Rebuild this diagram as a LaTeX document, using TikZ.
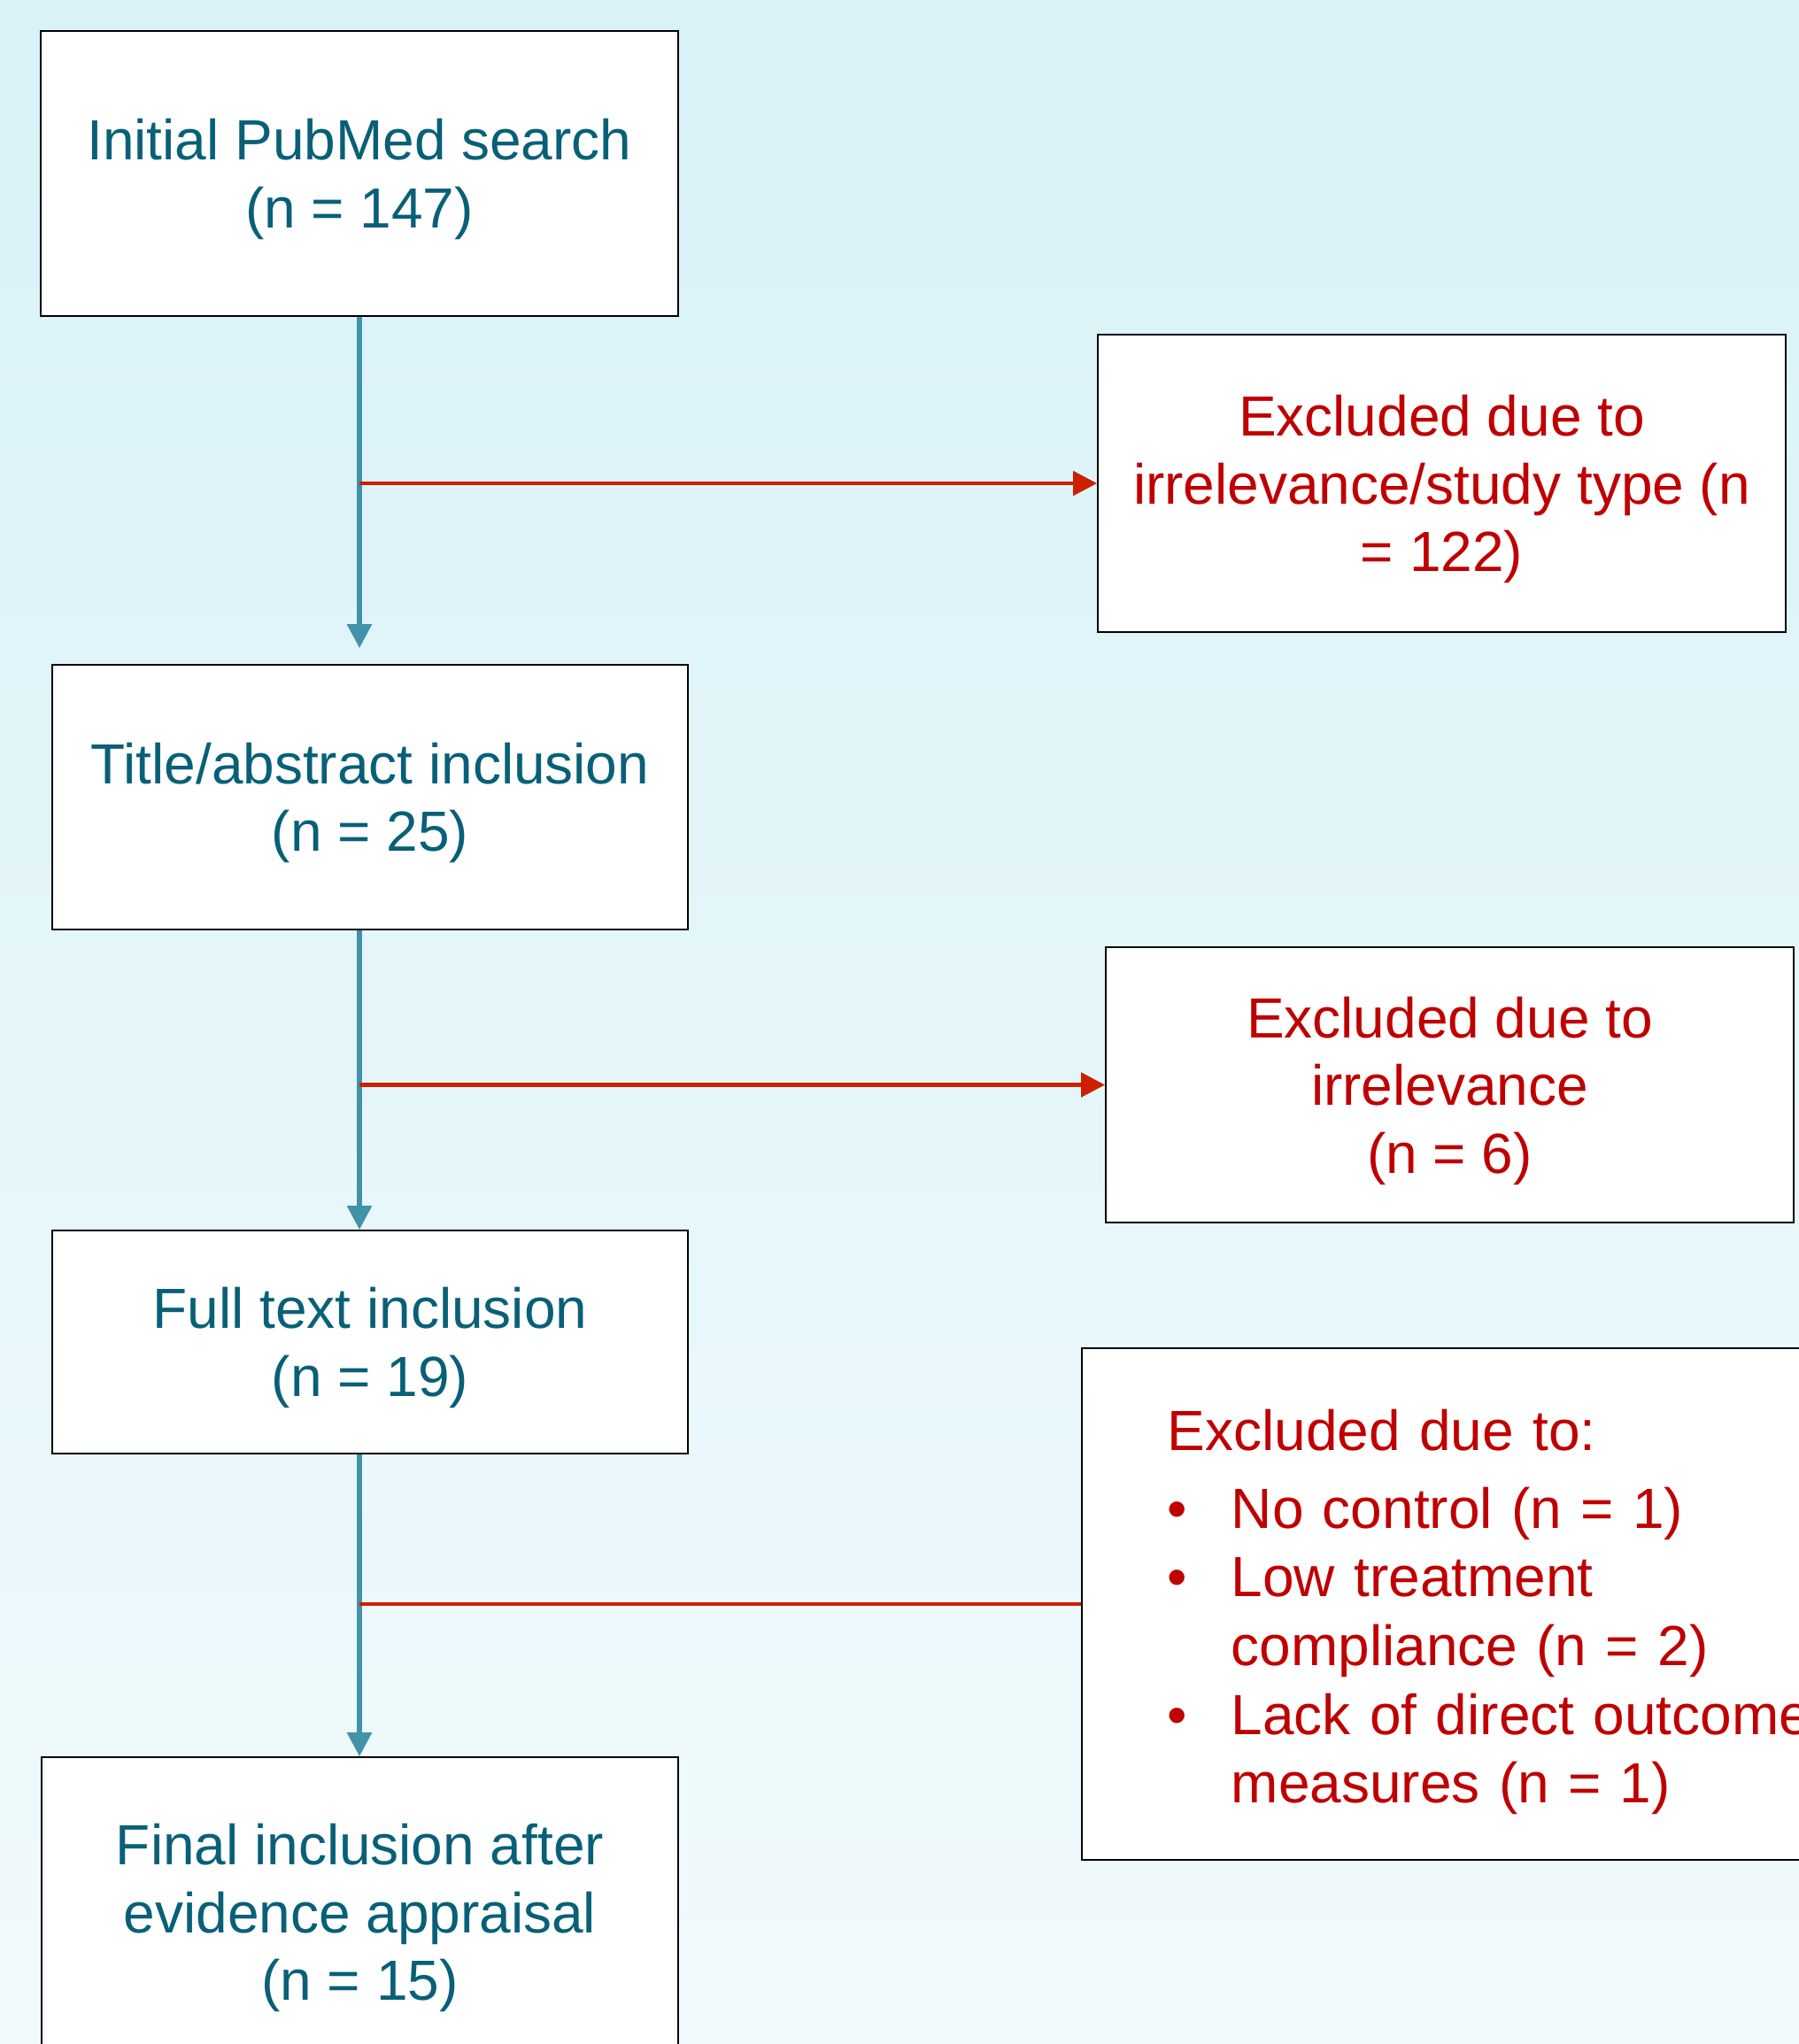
\documentclass[tikz,border=0pt]{standalone}
\usepackage{fontspec}
\setmainfont{Liberation Sans}
\usetikzlibrary{arrows.meta}

\definecolor{flowtext}{RGB}{8,96,120}
\definecolor{flowline}{RGB}{64,147,168}
\definecolor{exclred}{RGB}{192,0,0}
\definecolor{exclline}{RGB}{204,32,0}
\definecolor{bgtop}{RGB}{216,242,247}
\definecolor{bgbottom}{RGB}{241,250,252}

\begin{document}
\begin{tikzpicture}[
                every node/.style={font=\fontsize{18.2}{21.8}\selectfont},
                box/.style={draw=black,line width=0.5pt,fill=white,align=center,inner sep=0pt,text depth=-0.09cm},
                incl/.style={box,text=flowtext},
                excl/.style={box,text=exclred},
                down/.style={draw=flowline,line width=1.6pt,-{Triangle[length=0.27cm,width=0.27cm]}},
                side/.style={draw=exclline,line width=1.4pt}
            ]

            \shade[shading angle=-45,top color=bgtop,bottom color=bgbottom] (0,0) rectangle (20.32,-23.09);
            \useasboundingbox (0,0) rectangle (20.32,-23.09);

            % main column
            \node[incl,minimum width=7.2cm,minimum height=3.22cm] (search) at (4.06,-1.96) {Initial PubMed search\\(n = 147)};
            \node[incl,minimum width=7.18cm,minimum height=2.99cm] (title) at (4.18,-9.005) {Title/abstract inclusion\\(n = 25)};
            \node[incl,minimum width=7.18cm,minimum height=2.52cm] (fulltext) at (4.18,-15.16) {Full text inclusion\\(n = 19)};
            \node[incl,minimum width=7.19cm,minimum height=3.5cm] (final) at (4.065,-21.6) {Final inclusion after\\evidence appraisal\\(n = 15)};

            % exclusions
            \node[excl,minimum width=7.77cm,minimum height=3.36cm] (irrtype) at (16.285,-5.46) {Excluded due to\\irrelevance/study type (n\\= 122)};
            \node[excl,minimum width=7.77cm,minimum height=3.11cm] (irr) at (16.375,-12.255) {Excluded due to\\irrelevance\\(n = 6)};
            \node[excl,anchor=west,align=left,text width=7.2cm,inner xsep=0.97cm,minimum height=5.78cm,text depth=0.03cm,
                  font=\fontsize{18.2}{22.1}\selectfont] (reasons) at (12.21,-18.12) {%
                \begin{tabular}[b]{@{}p{0.72cm}@{}l@{}}
                    \multicolumn{2}{@{}l@{}}{Excluded due to:}\\[0.1cm]
                    \textbullet & No control (n = 1)\\
                    \textbullet & Low treatment\\
                    & compliance (n = 2)\\
                    \textbullet & Lack of direct outcome\\
                    & measures (n = 1)
                \end{tabular}};

            \draw[down,shorten >=0.18cm] (search.south) -- (search.south |- title.north);
            \draw[down] (search.south |- title.south) -- (search.south |- fulltext.north);
            \draw[down] (search.south |- fulltext.south) -- (search.south |- final.north);

            \draw[side,-{Triangle[length=0.27cm,width=0.27cm]}] (search.south |- irrtype.west) -- (irrtype.west);
            \draw[side,-{Triangle[length=0.27cm,width=0.27cm]}] (search.south |- irr.west) -- (irr.west);
            \draw[side] (search.south |- reasons.west) -- (reasons.west);

        \end{tikzpicture}
\end{document}
